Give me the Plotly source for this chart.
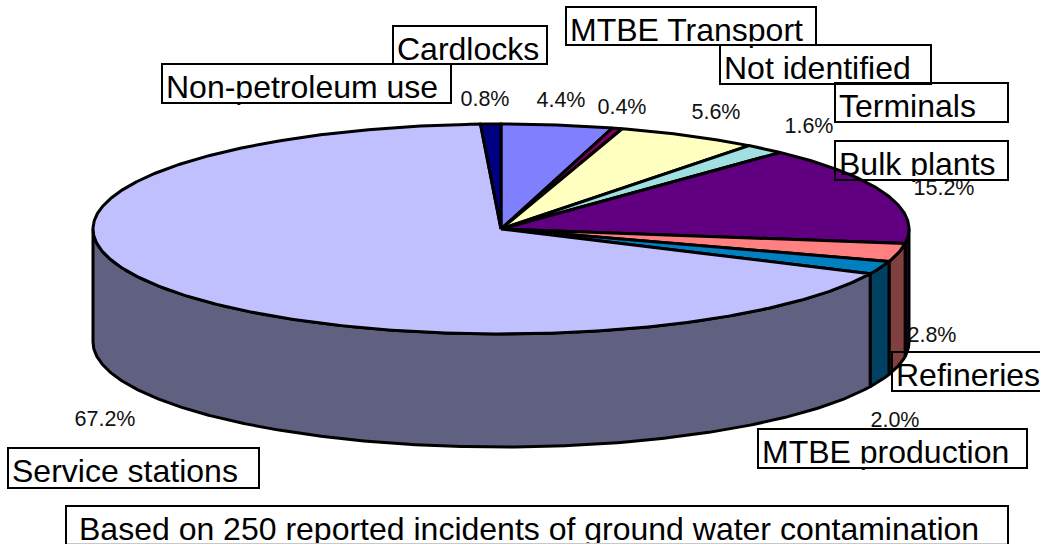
import numpy as np
import plotly.graph_objects as go

# slices clockwise from 12 o'clock
categories = ["Non-petroleum use", "MTBE Transport", "Not identified", "Terminals", "Bulk plants",
              "Refineries", "MTBE production", "Service stations", "Cardlocks"]
values = [4.4, 0.4, 5.6, 1.6, 15.2, 2.8, 2.0, 67.2, 0.8]
percent_labels = ["4.4%", "0.4%", "5.6%", "1.6%", "15.2%", "2.8%", "2.0%", "67.2%", "0.8%"]
note = "Based on 250 reported incidents of ground water contamination"

top_colors = ["#8080FF", "#800060", "#FFFFC0", "#A0E0E0", "#600080",
              "#FF8080", "#0080C0", "#C0C0FF", "#000080"]
side_colors = ["#404080", "#400030", "#808060", "#507070", "#300040",
               "#804040", "#004060", "#606080", "#000040"]

# where the percentages and the label boxes sit, in pixels
percent_x = [561, 622, 716, 809, 944, 932, 895, 105, 485]
percent_y = [102, 109, 114, 128, 190, 337, 422, 421, 101]
box_x0 = [162, 566, 720, 835, 835, 892, 758, 8, 393]
box_x1 = [451, 816, 931, 1008, 1008, 1060, 1027, 259, 547]
box_y0 = [64, 7, 45, 83, 141, 352, 429, 448, 26]
box_y1 = [103, 45, 84, 122, 180, 391, 468, 488, 64]

CX, CY = 501, 229
RX, RY = 408, 105
DEPTH = 113
LINE = dict(color="black", width=3)


def rim(a0, a1):
    t = np.radians(np.linspace(a0, a1, max(int(abs(a1 - a0) * 2), 2)))
    return CX + RX * np.sin(t), CY - RY * np.cos(t)


fig = go.Figure()

edges = np.concatenate([[0], np.cumsum(values)]) * 3.6

# walls first, only the front half of the pie shows them
for i in range(len(values)):
    a0, a1 = max(edges[i], 90), min(edges[i + 1], 270)
    if a1 <= a0:
        continue
    x, y = rim(a0, a1)
    fig.add_trace(go.Scatter(
        x=np.concatenate([x, x[::-1], x[:1]]),
        y=np.concatenate([y, y[::-1] + DEPTH, y[:1]]),
        mode="lines", fill="toself", fillcolor=side_colors[i], line=LINE,
        hoverinfo="skip", showlegend=False,
    ))

# top faces
for i in range(len(values)):
    x, y = rim(edges[i], edges[i + 1])
    fig.add_trace(go.Scatter(
        x=np.concatenate([[CX], x, [CX]]),
        y=np.concatenate([[CY], y, [CY]]),
        mode="lines", fill="toself", fillcolor=top_colors[i], line=LINE,
        name=categories[i], hoverinfo="skip", showlegend=False,
    ))

fig.add_trace(go.Scatter(
    x=percent_x, y=percent_y, text=percent_labels, mode="text",
    textposition="middle center",
    textfont=dict(family="Liberation Sans", size=21.5, color="#111111"),
    hoverinfo="skip", showlegend=False,
))

# category labels are traces so the white strips below can cut their descenders
fig.add_trace(go.Scatter(
    x=[x + 4 for x in box_x0], y=[y + 25.5 for y in box_y0], text=categories, mode="text",
    textposition="middle right",
    textfont=dict(family="Liberation Sans", size=32, color="black"),
    hoverinfo="skip", showlegend=False,
))
fig.add_trace(go.Scatter(
    x=[79], y=[531.5], text=[note], mode="text", textposition="middle right",
    textfont=dict(family="Liberation Sans", size=32, color="black"),
    hoverinfo="skip", showlegend=False,
))

shapes = []
# strips hiding the bottom of the clipped labels
for x0, x1, y0, y1 in [(165, 448, 98.5, 102), (570, 813, 41.5, 44), (880, 1006, 176, 179), (762, 1025, 463.5, 467)]:
    shapes.append(dict(type="rect", x0=x0, x1=x1, y0=y0, y1=y1, fillcolor="white",
                       line_width=0, layer="above"))
for x0, x1, y0, y1 in zip(box_x0, box_x1, box_y0, box_y1):
    shapes.append(dict(type="rect", x0=x0, x1=x1, y0=y0, y1=y1, layer="above",
                       fillcolor="rgba(0,0,0,0)", line=dict(color="black", width=2)))
shapes.append(dict(type="path", path="M66,545 L66,506 L1008,506 L1008,545", layer="above",
                   line=dict(color="black", width=2)))
shapes.append(dict(type="line", x0=67, x1=1007, y0=543.5, y1=543.5, layer="above",
                   line=dict(color="#c8c8c8", width=1)))

fig.update_layout(
    width=1040, height=544,
    margin=dict(l=0, r=0, t=0, b=0),
    paper_bgcolor="white", plot_bgcolor="white",
    xaxis=dict(range=[0, 1040], visible=False, fixedrange=True),
    yaxis=dict(range=[544, 0], visible=False, fixedrange=True),
    shapes=shapes,
)

# the default page margin would push the chart out of the window
fig.write_html("out.html", config={"displayModeBar": False},
               post_script="document.body.style.margin = '0';")
